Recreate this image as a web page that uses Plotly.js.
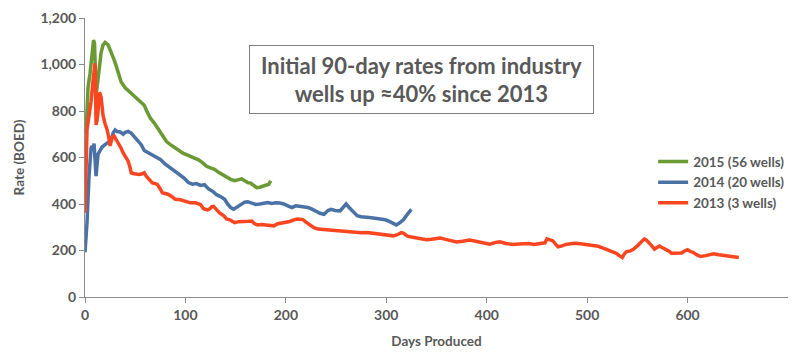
<!DOCTYPE html>
<html>
<head>
<meta charset="utf-8">
<script src="https://cdn.plot.ly/plotly-3.0.1.min.js"></script>
<style>html,body{margin:0;padding:0;background:#fff;}#chart{width:796px;height:357px;}</style>
</head>
<body>
<div id="chart"></div>
<script>
// 2015 (56 wells)
const days2015 = [1,3,5,7,8.5,9.5,10.5,11,12,14,16,18,20,23,26,29,31,34,36,40,45,50,55,59,62,65,69,73,77,81,85,89,93,97,101,105,109,113,117,121,125,129,133,137,141,145,149,153,156,159,162,165,168,171,174,177,180,183,185];
const rate2015 = [700,900,960,1060,1105,1090,960,870,900,980,1050,1085,1095,1085,1055,1020,995,955,925,900,880,862,845,825,795,770,748,720,697,670,655,645,632,620,613,605,600,590,578,562,555,549,536,525,515,506,500,505,508,500,492,490,478,470,472,477,480,485,500];

// 2014 (20 wells)
const days2014 = [0,2,4,5,6,7,8,9,10,11,12,13,15,17,20,23,26,28,30,32,35,38,40,43,46,49,53,56,59,63,67,71,75,79,83,87,91,95,99,103,107,111,115,119,123,127,131,135,139,142,145,148,152,155,159,162,166,170,174,178,182,186,190,194,198,202,206,210,214,218,222,226,230,234,238,242,245,249,254,257,260,263,267,271,275,279,283,287,291,295,299,303,307,310,313,317,320,323,325];
const rate2014 = [192,320,520,600,640,650,630,660,600,520,570,615,630,645,655,665,675,705,718,712,710,700,708,712,705,690,672,655,630,620,612,602,592,575,562,550,540,525,510,492,485,488,480,483,465,455,440,432,420,400,385,378,390,398,408,410,405,398,400,404,406,402,405,404,400,392,385,392,390,388,385,378,368,360,356,372,377,372,370,388,400,385,365,350,345,345,342,340,338,335,332,325,318,310,318,332,350,368,377];

// 2013 (3 wells)
const days2013 = [0,1,2,4,6,8,9.5,10,10.5,11,12,13,14,15,16,18,20,22,24,25,26,27,29,31,33,36,38,41,43,45,46,49,54,57,59,61,63,65,67,70,72,75,77,80,83,87,90,95,100,105,110,115,118,122,124,126,128,131,134,138,141,144,147,149,153,157,160,163,166,169,172,176,180,184,188,192,196,200,204,208,211,214,217,220,224,228,232,237,242,247,253,258,264,269,275,281,287,294,301,307,311,315,317,321,325,330,335,340,345,349,354,359,364,370,376,383,389,396,403,409,413,419,426,432,438,442,447,452,458,460,463,466,469,471,475,479,485,489,495,501,506,511,516,520,525,529,532,535,537,539,543,546,550,553,557,559,561,564,567,570,572,575,579,582,584,589,594,597,600,603,605,609,613,618,622,626,631,635,638,642,646,651];
const rate2013 = [362,560,720,780,840,930,995,1005,900,740,760,800,878,875,860,780,745,720,680,650,670,685,692,678,663,640,620,600,584,555,534,530,527,530,534,520,510,500,491,488,484,465,448,445,441,430,420,418,412,405,405,398,380,375,378,388,390,375,362,350,336,332,325,320,324,326,328,326,327,315,310,312,310,308,306,315,318,320,325,332,335,334,333,322,310,298,292,290,287,284,282,280,277,278,276,277,274,270,266,263,268,277,275,262,258,254,250,246,248,252,254,248,242,237,240,245,240,234,227,235,237,230,226,228,229,230,226,229,233,250,246,241,225,216,220,226,230,231,228,224,219,218,210,204,196,188,178,170,185,194,198,205,220,232,250,245,237,222,206,214,219,212,205,196,188,190,189,198,203,195,193,182,174,178,183,186,182,180,180,177,174,170];

const seriesNames = ['2015 (56 wells)', '2014 (20 wells)', '2013 (3 wells)'];
const seriesColors = ['#6A9A34', '#4A72A6', '#F94620'];
const yTicks = [0,200,400,600,800,1000,1200];
const yTickText = ['0','200','400','600','800','1,000','1,200'];
const xTicks = [0,100,200,300,400,500,600];

const FONT = 'Lato, "Open Sans", sans-serif';
const GRAY = '#595959';

const traces = [
  {x: days2015, y: rate2015, name: seriesNames[0]},
  {x: days2014, y: rate2014, name: seriesNames[1]},
  {x: days2013, y: rate2013, name: seriesNames[2]}
].map((t, i) => Object.assign(t, {
  type: 'scatter', mode: 'lines',
  line: {color: seriesColors[i], width: 3.5}
}));

const layout = {
  width: 796, height: 357,
  margin: {l: 85, r: 7, t: 18, b: 60},
  paper_bgcolor: '#fff', plot_bgcolor: '#fff',
  font: {family: FONT, color: GRAY, size: 13, weight: 700},
  showlegend: true,
  legend: {
    x: 0.807, y: 0.54, xanchor: 'left', yanchor: 'top',
    font: {family: FONT, size: 13.5, color: GRAY, weight: 700},
    bgcolor: 'rgba(0,0,0,0)'
  },
  xaxis: {
    range: [0, 700], tickvals: xTicks, ticks: 'outside', ticklen: 5,
    tickcolor: '#8c8c8c', showline: true, linecolor: '#8c8c8c', linewidth: 1,
    showgrid: false, zeroline: false,
    tickfont: {family: FONT, size: 14, color: GRAY, weight: 700},
    title: {text: 'Days Produced', font: {family: FONT, size: 13.5, color: GRAY, weight: 700}, standoff: 14}
  },
  yaxis: {
    range: [0, 1200], tickvals: yTicks, ticktext: yTickText, ticks: 'outside', ticklen: 5,
    tickcolor: '#8c8c8c', showline: true, linecolor: '#8c8c8c', linewidth: 1,
    showgrid: false, zeroline: false,
    tickfont: {family: FONT, size: 14, color: GRAY, weight: 700},
    title: {text: 'Rate (BOED)', font: {family: FONT, size: 13.5, color: GRAY, weight: 700}, standoff: 12}
  },
  annotations: [{
    xref: 'paper', yref: 'paper', x: 0.478, y: 0.781, xanchor: 'center', yanchor: 'middle',
    text: 'Initial 90-day rates from industry<br>wells up ≈40% since 2013',
    showarrow: false, align: 'center',
    font: {family: FONT, size: 22, color: GRAY, weight: 700},
    width: 343, height: 67, bordercolor: '#7f7f7f', borderwidth: 1, borderpad: 0, bgcolor: '#fff'
  }]
};

Plotly.newPlot('chart', traces, layout, {displayModeBar: false, staticPlot: true});
</script>
</body>
</html>
